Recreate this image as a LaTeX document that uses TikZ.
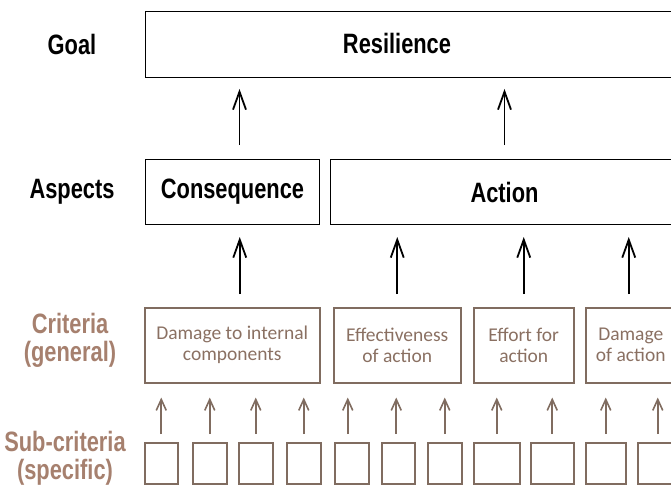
\documentclass[tikz,border=0pt]{standalone}
\usepackage{fontspec}
\setmainfont{Carlito}
\newfontfamily\headfont[FakeStretch=0.78]{Liberation Sans}
\usetikzlibrary{arrows.meta}

\definecolor{critline}{RGB}{128,108,96}
\definecolor{crittext}{RGB}{138,112,98}
\definecolor{levelbrown}{RGB}{166,128,110}

\begin{document}
\begin{tikzpicture}[x = 1pt, y = -1pt,
		headtext/.style = {font = \headfont\bfseries\fontsize{28}{28}\selectfont, align = center},
		aspectbox/.style = {draw, line width = 1pt, anchor = north west, inner sep = 0pt, headtext},
		critbox/.style = {draw = critline, line width = 1.5pt, anchor = north west, inner sep = 0pt, align = center, text = crittext, font = \fontsize{19.5}{21}\selectfont},
		subbox/.style = {draw = critline, line width = 1.5pt, anchor = north west, inner sep = 0pt, minimum height = 41pt},
		bigarrow/.style = {-{Straight Barb[length = 18pt, width = 13pt]}, line width = 1.8pt, shorten < = 13pt, shorten > = 11pt},
		subarrow/.style = {-{Straight Barb[length = 11pt, width = 10pt]}, line width = 1.6pt, critline, shorten < = 8pt, shorten > = 14pt}]
		\useasboundingbox (0, 0) rectangle (671, 492);
		\clip (0, 0) rectangle (671, 492);

		% level names
		\node [headtext] (lgoal) at (72, 44) {Goal};
		\node [headtext] (laspects) at (72, 192) {Aspects};
		\node [headtext, text = levelbrown] (lcrit) at (70, 340) {Criteria\\(general)};
		\node [headtext, text = levelbrown] (lsub) at (65, 458) {Sub-criteria\\(specific)};

		% goal and aspects
		\node [aspectbox, minimum width = 560pt, minimum height = 66pt] (goal) at (145, 11) {};
		\node [headtext] (resil) at (397, 43) {Resilience};
		\node [aspectbox, minimum width = 174pt, minimum height = 65pt] (cons) at (145, 159) {Consequence};
		\node [aspectbox, minimum width = 348pt, minimum height = 65pt] (action) at (330, 159) {Action};

		% criteria
		\node [critbox, minimum width = 175pt, minimum height = 75pt] (crit1) at (144, 307) {Damage to internal\\components};
		\node [critbox, minimum width = 127pt, minimum height = 75pt] (crit2) at (333, 307) {Effectiveness\\of action};
		\node [critbox, minimum width = 100pt, minimum height = 75pt] (crit3) at (473, 307) {Effort for\\action};
		\node [critbox, minimum width = 90pt, minimum height = 75pt] (crit4) at (585, 307) {Damage\\of action};

		% sub-criteria
		\node [subbox, minimum width = 33pt] (sub1) at (144, 442) {};
		\node [subbox, minimum width = 34pt] (sub2) at (192, 442) {};
		\node [subbox, minimum width = 34pt] (sub3) at (238, 442) {};
		\node [subbox, minimum width = 34pt] (sub4) at (286, 442) {};
		\node [subbox, minimum width = 34pt] (sub5) at (334, 442) {};
		\node [subbox, minimum width = 33pt] (sub6) at (381, 442) {};
		\node [subbox, minimum width = 34pt] (sub7) at (427, 442) {};
		\node [subbox, minimum width = 46pt] (sub8) at (473, 442) {};
		\node [subbox, minimum width = 43pt] (sub9) at (530, 442) {};
		\node [subbox, minimum width = 40pt] (sub10) at (585, 442) {};
		\node [subbox, minimum width = 40pt] (sub11) at (637, 442) {};

		% aspects to goal
		\draw [bigarrow, shorten < = 14pt] ([xshift = 7pt]cons.north) -- ([xshift = 7pt]cons.north |- goal.south);
		\draw [bigarrow, shorten < = 14pt] (action.north) -- (action.north |- goal.south);

		% criteria to aspects
		\draw [bigarrow, shorten > = 12pt] ([xshift = 7.5pt]crit1.north) -- ([xshift = 7.5pt]crit1.north |- cons.south);
		\draw [bigarrow, shorten > = 12pt] (crit2.north) -- (crit2.north |- action.south);
		\draw [bigarrow, shorten > = 12pt] (crit3.north) -- (crit3.north |- action.south);
		\draw [bigarrow, shorten > = 12pt] ([xshift = -2pt]crit4.north) -- ([xshift = -2pt]crit4.north |- action.south);

		% sub-criteria to criteria
		\draw [subarrow] (sub1.north) -- (sub1.north |- crit1.south);
		\draw [subarrow] (sub2.north) -- (sub2.north |- crit1.south);
		\draw [subarrow] (sub3.north) -- (sub3.north |- crit1.south);
		\draw [subarrow] (sub4.north) -- (sub4.north |- crit1.south);
		\draw [subarrow] ([xshift = -4pt]sub5.north) -- ([xshift = -4pt]sub5.north |- crit2.south);
		\draw [subarrow] ([xshift = -2pt]sub6.north) -- ([xshift = -2pt]sub6.north |- crit2.south);
		\draw [subarrow] (sub7.north) -- (sub7.north |- crit2.south);
		\draw [subarrow] (sub8.north) -- (sub8.north |- crit3.south);
		\draw [subarrow] (sub9.north) -- (sub9.north |- crit3.south);
		\draw [subarrow] (sub10.north) -- (sub10.north |- crit4.south);
		\draw [subarrow] (sub11.north) -- (sub11.north |- crit4.south);
	\end{tikzpicture}
\end{document}
